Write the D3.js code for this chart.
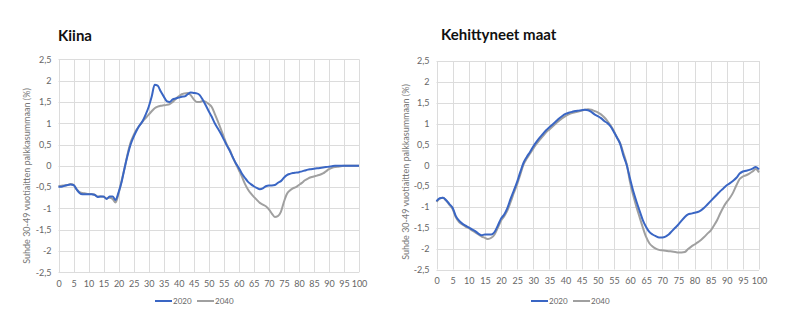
<!DOCTYPE html>
<html>
<head>
<meta charset="utf-8">
<script src="https://cdn.jsdelivr.net/npm/d3@7"></script>
<style>
  html, body { margin: 0; padding: 0; background: #fff; }
  svg { display: block; }
  text { font-family: Lato, "Open Sans", sans-serif; }
</style>
</head>
<body>
<svg id="chart" width="790" height="328"></svg>
<script>
// Ages 0..100
const ages = d3.range(0, 101);

// Kiina
const china2020 = [
  -0.49, -0.49, -0.47, -0.45, -0.44, -0.45, -0.55, -0.64, -0.67, -0.67,
  -0.67, -0.67, -0.68, -0.73, -0.72, -0.72, -0.78, -0.72, -0.72, -0.80,
  -0.62, -0.38, -0.05, 0.25, 0.50, 0.68, 0.83, 0.95, 1.05, 1.20,
  1.38, 1.62, 1.90, 1.88, 1.75, 1.63, 1.52, 1.50, 1.56, 1.58,
  1.60, 1.62, 1.63, 1.68, 1.72, 1.71, 1.70, 1.66, 1.55, 1.42,
  1.28, 1.15, 1.00, 0.88, 0.76, 0.62, 0.48, 0.35, 0.20, 0.06,
  -0.05, -0.18, -0.28, -0.37, -0.43, -0.48, -0.52, -0.55, -0.53, -0.48,
  -0.46, -0.46, -0.45, -0.40, -0.36, -0.28, -0.22, -0.19, -0.17, -0.16,
  -0.15, -0.13, -0.11, -0.09, -0.08, -0.07, -0.06, -0.05, -0.04, -0.03,
  -0.02, -0.01, 0, 0, 0, 0, 0, 0, 0, 0, 0
];
const china2040 = [
  -0.48, -0.47, -0.46, -0.45, -0.43, -0.45, -0.55, -0.62, -0.64, -0.65,
  -0.66, -0.66, -0.68, -0.72, -0.72, -0.73, -0.76, -0.75, -0.78, -0.86,
  -0.65, -0.35, -0.05, 0.28, 0.55, 0.72, 0.85, 0.95, 1.04, 1.12,
  1.20, 1.28, 1.35, 1.39, 1.41, 1.42, 1.43, 1.45, 1.50, 1.57,
  1.63, 1.68, 1.70, 1.71, 1.66, 1.56, 1.50, 1.50, 1.52, 1.50,
  1.45, 1.38, 1.22, 1.05, 0.87, 0.68, 0.50, 0.37, 0.20, 0.05,
  -0.10, -0.25, -0.42, -0.55, -0.65, -0.73, -0.80, -0.87, -0.91, -0.95,
  -1.02, -1.12, -1.20, -1.18, -1.08, -0.85, -0.66, -0.58, -0.53, -0.50,
  -0.45, -0.40, -0.34, -0.30, -0.27, -0.25, -0.23, -0.21, -0.18, -0.13,
  -0.08, -0.05, -0.03, -0.02, -0.01, 0, 0, 0, 0, 0, 0
];

// Kehittyneet maat
const developed2020 = [
  -0.86, -0.79, -0.78, -0.84, -0.93, -1.02, -1.22, -1.33, -1.40, -1.45,
  -1.49, -1.54, -1.58, -1.64, -1.68, -1.66, -1.66, -1.66, -1.60, -1.45,
  -1.28, -1.18, -1.02, -0.80, -0.60, -0.40, -0.16, 0.06, 0.20, 0.32,
  0.45, 0.56, 0.66, 0.75, 0.84, 0.91, 0.98, 1.05, 1.12, 1.18,
  1.23, 1.26, 1.28, 1.30, 1.31, 1.32, 1.33, 1.32, 1.28, 1.22,
  1.18, 1.13, 1.06, 1.01, 0.93, 0.80, 0.66, 0.50, 0.22, 0.00,
  -0.32, -0.62, -0.87, -1.10, -1.32, -1.48, -1.60, -1.66, -1.70, -1.73,
  -1.73, -1.71, -1.66, -1.58, -1.50, -1.42, -1.33, -1.24, -1.18, -1.16,
  -1.14, -1.12, -1.08, -1.02, -0.94, -0.86, -0.78, -0.70, -0.62, -0.55,
  -0.48, -0.43, -0.37, -0.30, -0.20, -0.15, -0.13, -0.11, -0.08, -0.04, -0.10
];
const developed2040 = [
  -0.88, -0.80, -0.78, -0.85, -0.95, -1.05, -1.25, -1.36, -1.42, -1.47,
  -1.51, -1.56, -1.61, -1.66, -1.71, -1.74, -1.77, -1.74, -1.66, -1.50,
  -1.33, -1.22, -1.08, -0.88, -0.66, -0.46, -0.22, 0.02, 0.16, 0.28,
  0.40, 0.51, 0.61, 0.70, 0.79, 0.86, 0.93, 1.00, 1.07, 1.13,
  1.18, 1.22, 1.25, 1.27, 1.29, 1.31, 1.33, 1.34, 1.33, 1.30,
  1.27, 1.22, 1.15, 1.06, 0.95, 0.82, 0.66, 0.52, 0.28, 0.02,
  -0.40, -0.72, -1.00, -1.25, -1.50, -1.72, -1.87, -1.95, -2.00, -2.03,
  -2.04, -2.05, -2.06, -2.07, -2.08, -2.09, -2.09, -2.08, -2.01, -1.95,
  -1.90, -1.85, -1.79, -1.72, -1.64, -1.57, -1.45, -1.32, -1.15, -1.00,
  -0.88, -0.78, -0.65, -0.48, -0.33, -0.27, -0.24, -0.20, -0.15, -0.09, -0.17
];

const xTicks = d3.range(0, 101, 5);
const yTicks = [2.5, 2, 1.5, 1, 0.5, 0, -0.5, -1, -1.5, -2, -2.5];
const seriesNames = ["2020", "2040"];
const colors = { "2020": "#3a66c4", "2040": "#a0a0a0" };
const axisTitle = "Suhde 30-49 vuotiaitten palkkasummaan (%)";
const fmt = v => String(v).replace(".", ",");

const svg = d3.select("#chart");

function panel(opts) {
  const { title, s2020, s2040, x0, x1, yTop, yBottom, titleX, titleY,
          axisLabelX, axisLabelY, legendX, legendY, xLabelY } = opts;
  const g = svg.append("g");
  const x = d3.scaleLinear().domain([0, 100]).range([x0, x1]);
  const y = d3.scaleLinear().domain([-2.5, 2.5]).range([yBottom, yTop]);

  // grid
  g.append("g").selectAll("line.v").data(xTicks).join("line")
    .attr("x1", d => Math.round(x(d)) + 0.5).attr("x2", d => Math.round(x(d)) + 0.5)
    .attr("y1", yTop).attr("y2", yBottom)
    .attr("stroke", "#dcdcdc").attr("stroke-width", 1);
  g.append("g").selectAll("line.h").data(yTicks).join("line")
    .attr("x1", x0).attr("x2", x1)
    .attr("y1", d => Math.round(y(d)) + 0.5).attr("y2", d => Math.round(y(d)) + 0.5)
    .attr("stroke", "#dcdcdc").attr("stroke-width", 1);

  // axes labels via d3 axes, domain and tick lines hidden
  const ax = g.append("g").attr("transform", `translate(0,${xLabelY})`)
    .call(d3.axisBottom(x).tickValues(xTicks).tickSize(0).tickPadding(0));
  const ay = g.append("g").attr("transform", `translate(${x0 - 7},0)`)
    .call(d3.axisLeft(y).tickValues(yTicks).tickSize(0).tickPadding(0).tickFormat(fmt));
  [ax, ay].forEach(a => {
    a.select(".domain").remove();
    a.selectAll("text").attr("fill", "#666").style("font-size", "9px")
      .style("font-family", "Lato, 'Open Sans', sans-serif");
  });
  ax.selectAll("text").attr("dy", "0.32em");

  // lines
  const line = arr => d3.line()
    .x((d, i) => x(ages[i])).y(d => y(d))
    .curve(d3.curveMonotoneX)(arr);
  g.append("path").attr("d", line(s2040)).attr("fill", "none")
    .attr("stroke", colors["2040"]).attr("stroke-width", 2).attr("stroke-linejoin", "round");
  g.append("path").attr("d", line(s2020)).attr("fill", "none")
    .attr("stroke", colors["2020"]).attr("stroke-width", 2).attr("stroke-linejoin", "round");

  // title
  g.append("text").attr("x", titleX).attr("y", titleY).text(title)
    .attr("fill", "#111").style("font-size", "15px").style("font-weight", "bold");

  // y-axis title
  g.append("text").attr("transform", `translate(${axisLabelX},${axisLabelY}) rotate(-90)`)
    .attr("text-anchor", "middle").attr("fill", "#777").style("font-size", "9px")
    .text(axisTitle);

  // legend
  const lg = g.append("g").attr("transform", `translate(${legendX},${legendY})`);
  seriesNames.forEach((name, i) => {
    const ox = i * 42;
    lg.append("line").attr("x1", ox).attr("x2", ox + 17).attr("y1", 0).attr("y2", 0)
      .attr("stroke", colors[name]).attr("stroke-width", 2);
    lg.append("text").attr("x", ox + 18).attr("y", 0).attr("dy", "0.35em")
      .attr("fill", "#666").style("font-size", "8px").text(name);
  });
}

panel({
  title: "Kiina", s2020: china2020, s2040: china2040,
  x0: 58.5, x1: 359, yTop: 59.3, yBottom: 272.3,
  titleX: 58, titleY: 41,
  axisLabelX: 30, axisLabelY: 176,
  legendX: 155, legendY: 301, xLabelY: 284
});
panel({
  title: "Kehittyneet maat", s2020: developed2020, s2040: developed2040,
  x0: 436.5, x1: 759, yTop: 61, yBottom: 269.5,
  titleX: 441, titleY: 40,
  axisLabelX: 409, axisLabelY: 172,
  legendX: 531, legendY: 301, xLabelY: 281.5
});
</script>
</body>
</html>
